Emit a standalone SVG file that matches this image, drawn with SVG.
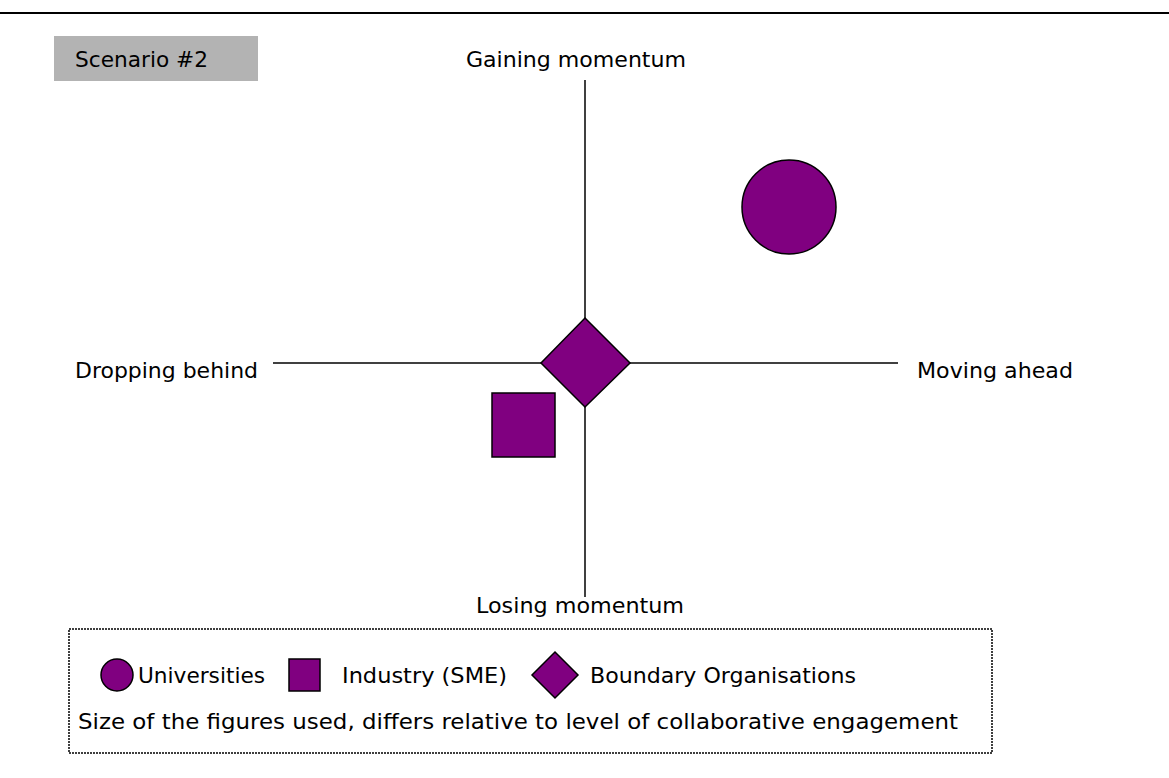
<svg xmlns="http://www.w3.org/2000/svg" width="1169" height="778" viewBox="0 0 1169 778">
<style>
text{font-family:"DejaVu Sans",Verdana,sans-serif;font-size:22px;fill:#000}
.shape{fill:#800080;stroke:#000;stroke-width:1.5}
.axis{stroke:#000;stroke-width:1.5;fill:none}
</style>
<rect width="1169" height="778" fill="#fff"/>
<line x1="0" y1="13" x2="1169" y2="13" stroke="#000" stroke-width="2"/>
<g id="title">
<rect x="54" y="36" width="204" height="45" fill="#b3b3b3"/>
<text x="75" y="67" textLength="133" lengthAdjust="spacingAndGlyphs">Scenario #2</text>
</g>
<g id="axes" class="connectors">
<line class="axis" x1="585" y1="80" x2="585" y2="597"/>
<line class="axis" x1="273" y1="363" x2="898" y2="363"/>
</g>
<g id="labels">
<text x="466" y="67" textLength="220" lengthAdjust="spacingAndGlyphs">Gaining momentum</text>
<text x="476" y="613" textLength="208" lengthAdjust="spacingAndGlyphs">Losing momentum</text>
<text x="75" y="378" textLength="183" lengthAdjust="spacingAndGlyphs">Dropping behind</text>
<text x="917" y="378" textLength="156" lengthAdjust="spacingAndGlyphs">Moving ahead</text>
</g>
<g id="universities"><circle class="shape" cx="789" cy="207" r="47"/></g>
<g id="industry"><rect class="shape" x="492" y="393" width="63" height="64"/></g>
<g id="boundary"><polygon class="shape" points="585,318 630,363 585,407 541,363"/></g>
<g id="legend">
<rect x="69" y="629" width="923" height="124" fill="none" stroke="#000" stroke-width="1.5" stroke-dasharray="2,1"/>
<circle class="shape" cx="117" cy="675" r="16"/>
<text x="138" y="683" textLength="127" lengthAdjust="spacingAndGlyphs">Universities</text>
<rect class="shape" x="289" y="659" width="31" height="32"/>
<text x="342" y="683" textLength="165" lengthAdjust="spacingAndGlyphs">Industry (SME)</text>
<polygon class="shape" points="555,652 578,675 555,698 532,675"/>
<text x="590" y="683" textLength="266" lengthAdjust="spacingAndGlyphs">Boundary Organisations</text>
<text x="78" y="729" textLength="880" lengthAdjust="spacingAndGlyphs">Size of the figures used, differs relative to level of collaborative engagement</text>
</g>
</svg>
